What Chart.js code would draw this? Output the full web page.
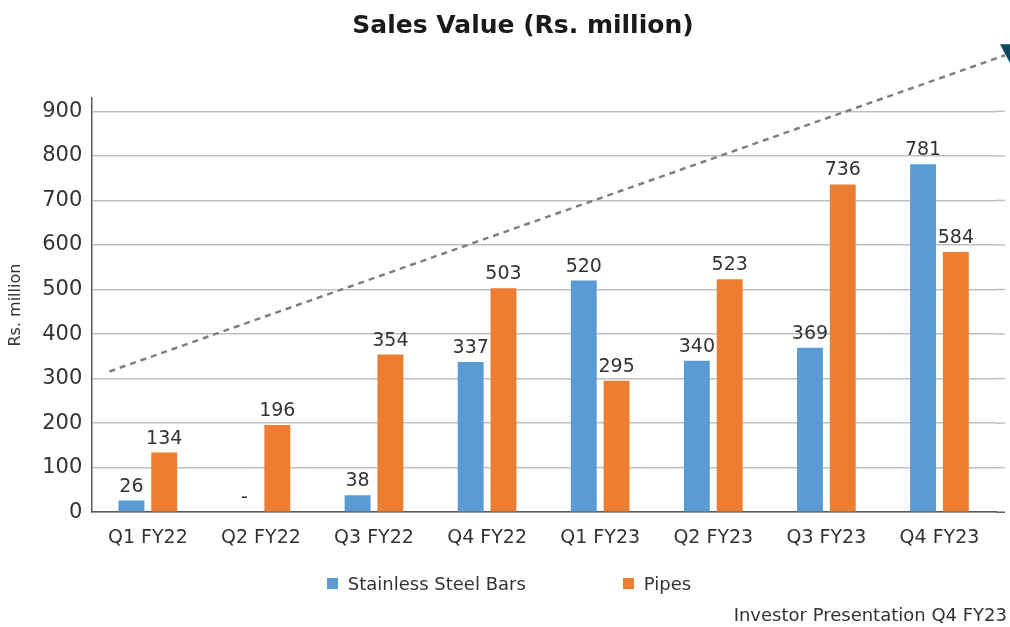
<!DOCTYPE html>
<html>
<head>
<meta charset="utf-8">
<script src="https://cdn.jsdelivr.net/npm/chart.js@4"></script>
<style>
  html, body { margin: 0; padding: 0; background: #fff; }
  #wrap { position: relative; width: 1010px; height: 627px; }
  #title {
    position: absolute; top: 10px; left: 0; width: 1046px; text-align: center;
    font-family: "DejaVu Sans", sans-serif; font-weight: bold; font-size: 25px; color: #1a1a1a;
  }
  #legend {
    position: absolute; left: 0; right: 0; top: 573px;
    display: flex; justify-content: center; gap: 97px;
    font-family: "DejaVu Sans", sans-serif; font-size: 18px; color: #333;
    padding-left: 8px;
  }
  #legend span.item { display: flex; align-items: center; }
  #legend span.box { width: 11px; height: 11px; margin-right: 10px; display: inline-block; }
  #footer {
    position: absolute; right: 3px; bottom: 2px;
    font-family: "DejaVu Sans", sans-serif; font-size: 18px; color: #333;
  }
</style>
</head>
<body>
<div id="wrap">
  <canvas id="myChart"></canvas>
  <div id="title">Sales Value (Rs. million)</div>
  <div id="legend"></div>
  <div id="footer">Investor Presentation Q4 FY23</div>
</div>
<script>
const quarters = ['Q1 FY22', 'Q2 FY22', 'Q3 FY22', 'Q4 FY22', 'Q1 FY23', 'Q2 FY23', 'Q3 FY23', 'Q4 FY23'];
const steelBars = [26, 0, 38, 337, 520, 340, 369, 781];
const pipes = [134, 196, 354, 503, 295, 523, 736, 584];
// dashed trend line: [category position, value] at both ends
const trendX = [-0.34, 7.58];
const trendY = [316, 1026];
const yTicks = [0, 100, 200, 300, 400, 500, 600, 700, 800, 900];

const blue = '#5b9bd5';
const orange = '#ed7d31';
const textColor = '#333333';
const font = 'DejaVu Sans';

const barLabels = {
    id: 'barLabels',
    afterDatasetsDraw(chart) {
        const ctx = chart.ctx;
        ctx.save();
        ctx.font = '19px "' + font + '"';
        ctx.fillStyle = textColor;
        ctx.textAlign = 'center';
        ctx.textBaseline = 'alphabetic';
        chart.data.datasets.forEach(function (ds, i) {
            chart.getDatasetMeta(i).data.forEach(function (bar, j) {
                const v = ds.data[j];
                ctx.fillText(v === 0 ? '-' : String(v), bar.x, bar.y - 9);
            });
        });
        ctx.restore();
    }
};

// gridlines and the base axis run a little past the last category in the original
const gridExtend = {
    id: 'gridExtend',
    afterDraw(chart) {
        const ys = chart.scales.y, area = chart.chartArea;
        const ctx = chart.ctx;
        ctx.save();
        ctx.lineWidth = 1.5;
        yTicks.forEach(function (v) {
            const py = ys.getPixelForValue(v);
            ctx.strokeStyle = v === 0 ? '#595959' : '#bfbfbf';
            ctx.beginPath();
            ctx.moveTo(area.right, py);
            ctx.lineTo(area.right + 9, py);
            ctx.stroke();
        });
        ctx.restore();
    }
};

// dashed trend line drawn through the category/value scales, not clipped
const trendLine = {
    id: 'trendLine',
    afterDraw(chart) {
        const xs = chart.scales.x, ys = chart.scales.y;
        const x0 = xs.getPixelForValue(trendX[0]), y0 = ys.getPixelForValue(trendY[0]);
        const x1 = xs.getPixelForValue(trendX[1]), y1 = ys.getPixelForValue(trendY[1]);
        const ctx = chart.ctx;
        ctx.save();
        ctx.strokeStyle = '#7f7f7f';
        ctx.lineWidth = 2.5;
        ctx.setLineDash([6, 5]);
        ctx.beginPath();
        ctx.moveTo(x0, y0);
        ctx.lineTo(x1, y1);
        ctx.stroke();
        // dark marker at the end
        ctx.fillStyle = '#0e4a60';
        ctx.beginPath();
        ctx.moveTo(x1 - 5, y1 - 11);
        ctx.lineTo(x1 + 12, y1 - 11);
        ctx.lineTo(x1 + 6, y1 + 10);
        ctx.closePath();
        ctx.fill();
        ctx.restore();
    }
};

const data = {
    labels: quarters,
    datasets: [
        {
            label: 'Stainless Steel Bars',
            data: steelBars,
            backgroundColor: blue,
            categoryPercentage: 0.58,
            barPercentage: 0.79
        },
        {
            label: 'Pipes',
            data: pipes,
            backgroundColor: orange,
            categoryPercentage: 0.58,
            barPercentage: 0.79
        }
    ]
};

const config = {
    type: 'bar',
    data: data,
    options: {
        responsive: true,
        maintainAspectRatio: false,
        animation: false,
        layout: {
            padding: { left: 6, right: 14, top: 98, bottom: 64 }
        },
        plugins: {
            legend: { display: false },
            tooltip: { enabled: false }
        },
        scales: {
            x: {
                grid: { display: false, drawTicks: false },
                border: { color: '#595959', width: 1.5 },
                ticks: { color: textColor, font: { family: font, size: 19 }, padding: 14 }
            },
            y: {
                min: 0,
                max: 930,
                afterBuildTicks: function (scale) {
                    scale.ticks = yTicks.map(v => ({ value: v }));
                },
                grid: { color: '#bfbfbf', lineWidth: 1.5, drawTicks: false },
                border: { color: '#595959', width: 1.5 },
                ticks: { color: textColor, font: { family: font, size: 21 }, padding: 9 },
                title: {
                    display: true,
                    text: 'Rs. million',
                    color: textColor,
                    font: { family: font, size: 16 },
                    padding: { top: 0, bottom: 8 }
                }
            }
        }
    },
    plugins: [gridExtend, barLabels, trendLine]
};

const myChart = new Chart(document.getElementById('myChart'), config);

// html legend with the wide spacing of the original
const legend = document.getElementById('legend');
myChart.data.datasets.forEach(function (ds) {
    const item = document.createElement('span');
    item.className = 'item';
    const box = document.createElement('span');
    box.className = 'box';
    box.style.background = ds.backgroundColor;
    item.appendChild(box);
    item.appendChild(document.createTextNode(ds.label));
    legend.appendChild(item);
});
</script>
</body>
</html>
